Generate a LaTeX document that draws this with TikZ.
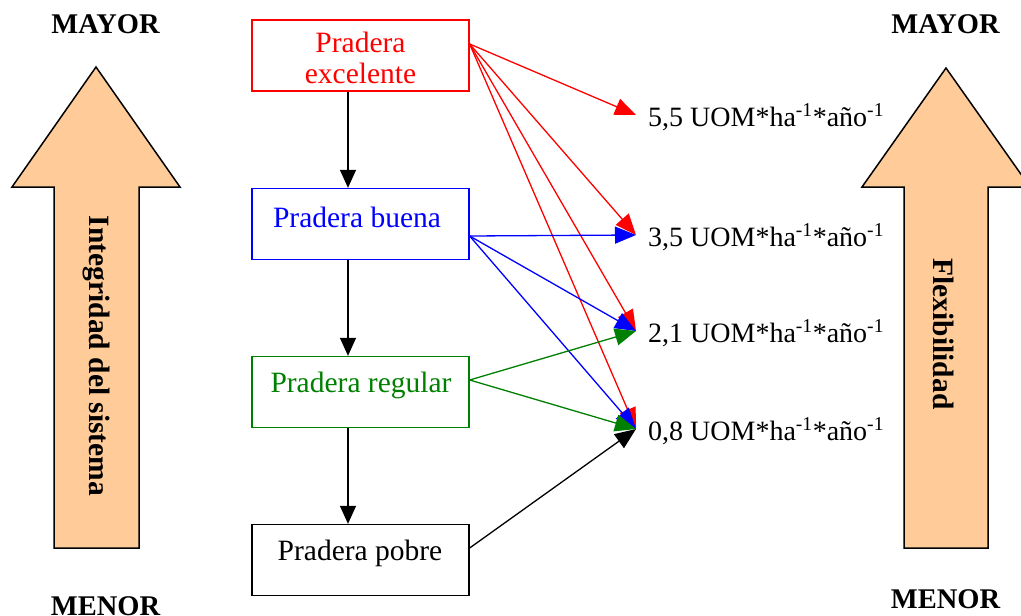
\documentclass[tikz,border=0pt]{standalone}
\usepackage{fontspec}
\setmainfont{Liberation Serif}
\usetikzlibrary{arrows.meta,calc}
\definecolor{peach}{RGB}{255,204,153}
\definecolor{dkgreen}{RGB}{0,128,0}

\begin{document}
\begin{tikzpicture}[x=1pt,y=-1pt,
  box/.style={draw, line width=1.3pt, minimum width=217pt, minimum height=71pt, inner sep=0pt},
  boxtext/.style={font=\fontsize{29.5}{31}\selectfont, align=center, inner sep=0pt},
  bigarrow/.style={fill=peach, draw=black, line width=1.5pt, line join=miter},
  endlabel/.style={font=\fontsize{28.5}{30}\selectfont\bfseries, anchor=base, inner sep=0pt},
  sidetext/.style={font=\fontsize{29.5}{30}\selectfont\bfseries, rotate=-90, inner sep=0pt},
  value/.style={font=\fontsize{28}{30}\selectfont, anchor=base west, inner sep=0pt},
  link/.style={line width=1.3pt, -{Triangle[length=21pt,width=17pt]}},
  down/.style={line width=1.3pt, -{Triangle[length=18pt,width=16pt]}},
  ]
\useasboundingbox (0,0) rectangle (1021,616);
\clip (0,0) rectangle (1021,616);

% large side arrows
\draw[bigarrow] (96,67) -- (180,187) -- (139,187) -- (139,548) -- (54,548) -- (54,187) -- (12,187) -- cycle;
\draw[bigarrow] (946,68) -- (1030,187) -- (988,187) -- (988,548) -- (904,548) -- (904,187) -- (862,187) -- cycle;
\node[sidetext] (integ) at (96,356) {Integridad del sistema};
\node[sidetext] (flex) at (944,334) {Flexibilidad};

\node[endlabel] (mayL) at (105.5,33) {MAYOR};
\node[endlabel] (mayR) at (945.5,33) {MAYOR};
\node[endlabel] (menL) at (105.5,615) {MENOR};
\node[endlabel] (menR) at (945.5,608) {MENOR};

% pasture condition boxes
\node[box, draw=red] (exc) at (360.5,55.5) {};
\node[box, draw=blue] (bue) at (360.5,224) {};
\node[box, draw=dkgreen] (reg) at (360.5,392) {};
\node[box, draw=black] (pob) at (360.5,560) {};
\node[boxtext, text=red] (excT) at (360.5,58) {Pradera\\excelente};
\node[boxtext, text=blue] (bueT) at (357,217) {Pradera buena};
\node[boxtext, text=dkgreen] (regT) at (361,385) {Pradera regular};
\node[boxtext, text=black] (pobT) at (360,553) {Pradera pobre};

% downward sequence
\draw[down] ($(exc.south)+(-12.5,0)$) -- ($(bue.north)+(-12.5,0)$);
\draw[down] ($(bue.south)+(-12.5,0)$) -- ($(reg.north)+(-12.5,0)$);
\draw[down] ($(reg.south)+(-12.5,0)$) -- ($(pob.north)+(-12.5,0)$);

% stocking rates
\node[value] (v55) at (648,126) {5,5 UOM*ha\textsuperscript{-1}*año\textsuperscript{-1}};
\node[value] (v35) at (648,246) {3,5 UOM*ha\textsuperscript{-1}*año\textsuperscript{-1}};
\node[value] (v21) at (648,342) {2,1 UOM*ha\textsuperscript{-1}*año\textsuperscript{-1}};
\node[value] (v08) at (648,440) {0,8 UOM*ha\textsuperscript{-1}*año\textsuperscript{-1}};
\coordinate (t55) at ($(v55.base west)+(-12,-11)$);
\coordinate (t35) at ($(v35.base west)+(-12,-11)$);
\coordinate (t21) at ($(v21.base west)+(-12,-11)$);
\coordinate (t08) at ($(v08.base west)+(-12,-11)$);

% origins on the right side of each box
\coordinate (oexc) at ($(exc.east)+(0,-11.5)$);
\coordinate (obue) at ($(bue.east)+(0,12)$);
\coordinate (oreg) at ($(reg.east)+(0,-12)$);
\coordinate (opob) at ($(pob.east)+(0,-12)$);

\draw[link, red] (oexc) -- (t55);
\draw[link, red] (oexc) -- (t35);
\draw[link, red] (oexc) -- (t21);
\draw[link, red] (oexc) -- (t08);
\draw[link, blue] (obue) -- (t35);
\draw[link, blue] (obue) -- (t21);
\draw[link, blue] (obue) -- (t08);
\draw[link, dkgreen] (oreg) -- (t21);
\draw[link, dkgreen] (oreg) -- (t08);
\draw[link, black] (opob) -- (t08);
\end{tikzpicture}
\end{document}
